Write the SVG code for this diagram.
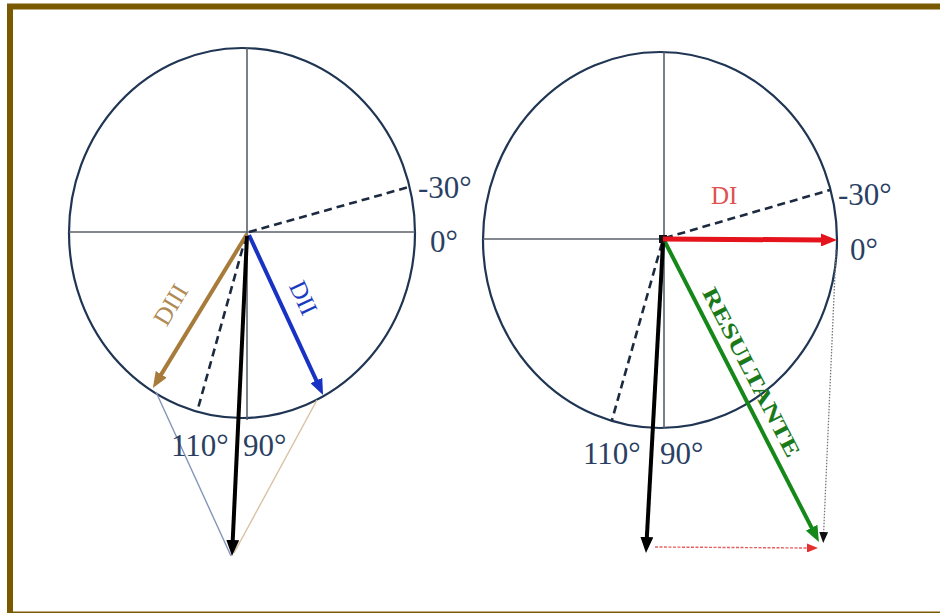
<svg xmlns="http://www.w3.org/2000/svg" width="940" height="613" viewBox="0 0 940 613">
<defs>
<style>
.circ{fill:none;stroke:#1f3553;stroke-width:2.2}
.axis{stroke:#5a6068;stroke-width:1.6;fill:none}
.dash{stroke:#1c2a40;stroke-width:2.6;stroke-dasharray:8 5;fill:none}
.lbl{font-family:"Liberation Serif","Times New Roman",serif;font-size:31px;fill:#2b3f63}
.vec{fill:none;stroke-linecap:butt}
</style>
<marker id="ahBlack" viewBox="0 0 16 13" refX="3" refY="6.5" markerWidth="16" markerHeight="13" orient="auto" markerUnits="userSpaceOnUse"><path d="M0,0 L16,6.5 L0,13 z" fill="#000"/></marker>
<marker id="ahBrown" viewBox="0 0 16 13" refX="3" refY="6.5" markerWidth="16" markerHeight="13" orient="auto" markerUnits="userSpaceOnUse"><path d="M0,0 L16,6.5 L0,13 z" fill="#a77b3a"/></marker>
<marker id="ahBlue" viewBox="0 0 16 13" refX="3" refY="6.5" markerWidth="16" markerHeight="13" orient="auto" markerUnits="userSpaceOnUse"><path d="M0,0 L16,6.5 L0,13 z" fill="#1833c4"/></marker>
<marker id="ahRed" viewBox="0 0 16 13" refX="3" refY="6.5" markerWidth="16" markerHeight="13" orient="auto" markerUnits="userSpaceOnUse"><path d="M0,0 L16,6.5 L0,13 z" fill="#e5131b"/></marker>
<marker id="ahGreen" viewBox="0 0 16 13" refX="3" refY="6.5" markerWidth="16" markerHeight="13" orient="auto" markerUnits="userSpaceOnUse"><path d="M0,0 L16,6.5 L0,13 z" fill="#16881a"/></marker>
<marker id="ahRedSmall" viewBox="0 0 11 9" refX="2" refY="4.5" markerWidth="11" markerHeight="9" orient="auto" markerUnits="userSpaceOnUse"><path d="M0,0 L11,4.5 L0,9 z" fill="#e53030"/></marker>
<marker id="ahBlackSmall" viewBox="0 0 11 9" refX="2" refY="4.5" markerWidth="11" markerHeight="9" orient="auto" markerUnits="userSpaceOnUse"><path d="M0,0 L11,4.5 L0,9 z" fill="#111"/></marker>
</defs>
<rect x="0" y="0" width="940" height="613" fill="#ffffff"/>
<rect id="frame" x="10" y="6.5" width="940" height="608" fill="none" stroke="#7a5a00" stroke-width="6"/>

<g id="left-diagram">
  <ellipse class="circ" cx="242" cy="233" rx="173" ry="185"/>
  <line class="axis" x1="69" y1="232" x2="415" y2="232"/>
  <line class="axis" x1="247" y1="48" x2="247" y2="420"/>
  <line class="dash" x1="249" y1="232" x2="409" y2="187"/>
  <line class="dash" x1="246" y1="236" x2="197" y2="412"/>
</g>
<g id="right-diagram">
  <ellipse class="circ" cx="660" cy="240" rx="177" ry="188"/>
  <line class="axis" x1="483" y1="239" x2="663" y2="239"/>
  <line class="axis" x1="664" y1="52" x2="664" y2="428"/>
  <line class="dash" x1="665" y1="238" x2="830" y2="190"/>
  <line class="dash" x1="662" y1="243" x2="612" y2="420"/>
</g>

<g id="connectors">
  <line x1="156" y1="392" x2="231" y2="556" stroke="#8595b8" stroke-width="1.4"/>
  <line x1="317" y1="400" x2="234" y2="553" stroke="#d9c2a2" stroke-width="1.4"/>
  <line class="vec" x1="247" y1="234" x2="159.7" y2="376.9" stroke="#a77b3a" stroke-width="4" marker-end="url(#ahBrown)"/>
  <line class="vec" x1="249" y1="235" x2="317.6" y2="383.2" stroke="#1833c4" stroke-width="4" marker-end="url(#ahBlue)"/>
  <line class="vec" x1="247" y1="236" x2="232.6" y2="543" stroke="#000" stroke-width="4" marker-end="url(#ahBlack)"/>

  <line x1="836" y1="250" x2="823.6" y2="534" stroke="#777" stroke-width="1.3" stroke-dasharray="1.5 1.5" marker-end="url(#ahBlackSmall)"/>
  <line x1="655" y1="547" x2="809" y2="548" stroke="#e56060" stroke-width="1.4" stroke-dasharray="3 1.5" marker-end="url(#ahRedSmall)"/>
  <rect x="659" y="235" width="8" height="8" fill="#111"/>
  <line class="vec" x1="663" y1="239" x2="824" y2="240" stroke="#e5131b" stroke-width="5" marker-end="url(#ahRed)"/>
  <line class="vec" x1="665" y1="242" x2="813" y2="530.4" stroke="#16881a" stroke-width="4" marker-end="url(#ahGreen)"/>
  <line class="vec" x1="663" y1="243" x2="646.7" y2="540" stroke="#000" stroke-width="4" marker-end="url(#ahBlack)"/>
</g>

<g id="labels">
  <text class="lbl" x="418" y="198">-30°</text>
  <text class="lbl" x="430" y="252">0°</text>
  <text class="lbl" x="171" y="456">110°</text>
  <text class="lbl" x="243" y="456">90°</text>
  <text class="lbl" x="838" y="205">-30°</text>
  <text class="lbl" x="850" y="260">0°</text>
  <text class="lbl" x="583" y="464">110°</text>
  <text class="lbl" x="660" y="464">90°</text>
  <text x="711" y="204" font-family="Liberation Serif, serif" font-size="25" fill="#e05252">DI</text>
  <text transform="translate(171,305) rotate(-59)" x="0" y="8" text-anchor="middle" font-family="Liberation Serif, serif" font-size="25" fill="#b08a52">DIII</text>
  <text transform="translate(303,298) rotate(65)" x="0" y="8" text-anchor="middle" font-family="Liberation Serif, serif" font-size="25" fill="#1a3bc0">DII</text>
  <text transform="translate(752,372) rotate(62.7)" x="0" y="8" text-anchor="middle" font-family="Liberation Serif, serif" font-size="22" font-weight="bold" fill="#1a7a1a" textLength="188" lengthAdjust="spacingAndGlyphs">RESULTANTE</text>
</g>
</svg>
